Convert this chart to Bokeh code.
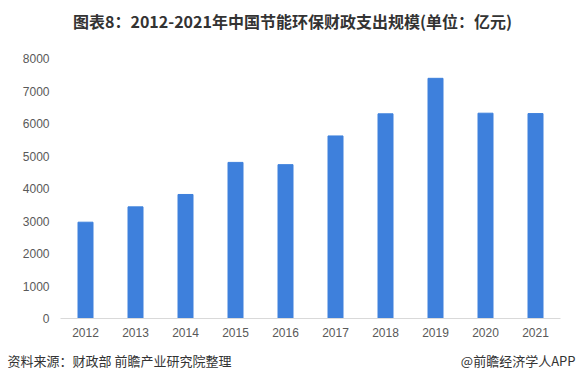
from bokeh.plotting import figure
from bokeh.layouts import column
from bokeh.models import Label, Range1d, FixedTicker
from bokeh.embed import file_html
from bokeh.resources import INLINE

years = ["2012", "2013", "2014", "2015", "2016", "2017", "2018", "2019", "2020", "2021"]
spending = [2963, 3435, 3816, 4803, 4734, 5617, 6298, 7390, 6317, 6305]
y_ticks = [0, 1000, 2000, 3000, 4000, 5000, 6000, 7000, 8000]

title_text = "图表8：2012-2021年中国节能环保财政支出规模(单位：亿元)"
source_text = "资料来源：财政部 前瞻产业研究院整理"
brand_text = "@前瞻经济学人APP"

W = 576
H_TOP, H_MAIN, H_FOOT = 40, 305, 30
FL, FR, FT, FB = 60, 560, 18, 18 + 260  # frame in main-figure pixels


def text_strip(h):
    f = figure(width=W, height=h, output_backend="svg", toolbar_location=None,
               x_range=Range1d(0, W), y_range=Range1d(h, 0),
               x_axis_location=None, y_axis_location=None, min_border=0,
               frame_align=False)
    f.xgrid.visible = False
    f.ygrid.visible = False
    f.outline_line_color = None
    f.border_fill_color = "white"
    f.background_fill_color = "white"
    return f


top = text_strip(H_TOP)
top.add_layout(Label(x=292, y=20, text=title_text, text_font="Noto Sans CJK SC",
                     text_font_size="16px", text_font_style="bold", text_color="#333333",
                     text_align="center", text_baseline="middle"))

p = figure(x_range=years, width=W, height=H_MAIN, output_backend="svg", toolbar_location=None,
           min_border_left=FL, min_border_right=W - FR, min_border_top=FT,
           min_border_bottom=H_MAIN - FB, frame_align=False)
p.y_range = Range1d(0, 8000)
p.vbar(x=years, top=spending, width=0.3, color="#3e80dc")

p.xgrid.visible = False
p.ygrid.visible = False
p.outline_line_color = None
p.background_fill_color = "white"
p.border_fill_color = "white"

p.yaxis.ticker = FixedTicker(ticks=y_ticks)
p.yaxis.axis_line_color = None
p.yaxis.major_tick_line_color = None
p.yaxis.minor_tick_line_color = None
p.yaxis.major_tick_out = 0
p.yaxis.major_tick_in = 0
p.yaxis.major_label_standoff = 11
p.yaxis.major_label_text_font = "Liberation Sans"
p.yaxis.major_label_text_font_size = "12px"
p.yaxis.major_label_text_color = "#595959"

p.xaxis.axis_line_color = "#d9d9d9"
p.xaxis.major_tick_line_color = None
p.xaxis.minor_tick_line_color = None
p.xaxis.major_tick_out = 0
p.xaxis.major_tick_in = 0
p.xaxis.major_label_standoff = 9
p.xaxis.major_label_text_font = "Liberation Sans"
p.xaxis.major_label_text_font_size = "12px"
p.xaxis.major_label_text_color = "#595959"

foot = text_strip(H_FOOT)
foot.add_layout(Label(x=7, y=15, text=source_text, text_font="Noto Sans CJK SC",
                      text_font_size="13px", text_color="#333333",
                      text_align="left", text_baseline="middle"))
foot.add_layout(Label(x=575, y=15, text=brand_text, text_font="Noto Sans CJK SC",
                      text_font_size="13px", text_color="#333333",
                      text_align="right", text_baseline="middle"))

layout = column(top, p, foot, spacing=0)
open("out.html", "w").write(file_html(layout, INLINE))
